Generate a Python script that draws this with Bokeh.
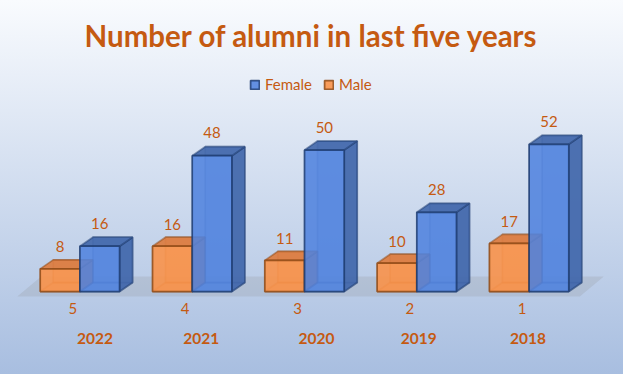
from bokeh.plotting import figure
from bokeh.embed import file_html
from bokeh.resources import INLINE
from bokeh.models import ColumnDataSource, Range1d, FixedTicker, Legend, LegendItem
from bokeh.core.properties import value

years = ["2022", "2021", "2020", "2019", "2018"]
ranks = ["5", "4", "3", "2", "1"]
female = [16, 48, 50, 28, 52]
male = [8, 16, 11, 10, 17]

FONT = "Lato"
TEXT = "#c55a11"
W, H = 623, 374
STEP = 112.3      # px per category
UNIT = 2.83       # px per value unit
X0, Y0 = 79.4, 291.0  # figure px of first category centre / value 0
BAR = 39.7 / STEP
DX = 13.0 / STEP
DY = 9.0 / UNIT
year_shift = [15, 9, 12, 2, -1]   # px from category centre

p = figure(width=W, height=H, output_backend="svg", toolbar_location=None,
           x_range=Range1d(-X0 / STEP, (W - X0) / STEP),
           y_range=Range1d((Y0 - H) / UNIT, Y0 / UNIT),
           min_border=0, outline_line_color=None,
           background_fill_color=None, border_fill_color=None)
p.grid.visible = False
p.yaxis.visible = False

idx = list(range(len(years)))


def box(vals, left):
    xs0 = [i + left for i in idx]
    xs1 = [x + BAR for x in xs0]
    return dict(
        front_x=[[a, b, b, a] for a, b in zip(xs0, xs1)],
        front_y=[[0, 0, v, v] for v in vals],
        top_x=[[a, b, b + DX, a + DX] for a, b in zip(xs0, xs1)],
        top_y=[[v, v, v + DY, v + DY] for v in vals],
        side_x=[[b, b + DX, b + DX, b] for b in xs1],
        side_y=[[0, DY, v + DY, v] for v in vals],
        back_x=[[a + DX, b + DX, b + DX, a + DX] for a, b in zip(xs0, xs1)],
        back_y=[[DY, DY, v + DY, v + DY] for v in vals],
        bottom_x=[[a, b, b + DX, a + DX] for a, b in zip(xs0, xs1)],
        bottom_y=[[0, 0, DY, DY] for v in vals],
    )


# floor plane
fl = -BAR - 23 / STEP
fr = len(idx) - 1 + BAR + 11 / STEP
p.patch([fl, fr, fr + 24 / STEP, fl + 24 / STEP],
        [-5 / UNIT, -5 / UNIT, 15 / UNIT, 15 / UNIT],
        fill_color="#8a8a8a", fill_alpha=0.2, line_color=None)


def draw(vals, left, front, dark, edge):
    src = ColumnDataSource(box(vals, left))
    kw = dict(source=src, line_color=edge, line_width=1.75)
    p.patches("back_x", "back_y", fill_color=front, fill_alpha=0.25, line_alpha=0.3, **kw)
    p.patches("bottom_x", "bottom_y", fill_color=front, fill_alpha=0.25, line_alpha=0.3, **kw)
    p.patches("side_x", "side_y", fill_color=dark, fill_alpha=0.9, line_alpha=0.5, **kw)
    p.patches("top_x", "top_y", fill_color=dark, fill_alpha=0.9, line_alpha=0.5, **kw)
    return p.patches("front_x", "front_y", fill_color=front, fill_alpha=0.88,
                     line_alpha=0.85, **kw)


r_male = draw(male, -BAR, "#fb9145", "#dd7a3c", "#8f4a15")
r_female = draw(female, 0, "#5183de", "#4066aa", "#1f3d72")

# data labels
p.text([i - BAR / 2 for i in idx], male, text=[str(v) for v in male],
       text_font=value(FONT), text_font_size="15px", text_color=TEXT,
       text_align="center", text_baseline="middle", y_offset=-22)
p.text([i + BAR / 2 for i in idx], female, text=[str(v) for v in female],
       text_font=value(FONT), text_font_size="15px", text_color=TEXT,
       text_align="center", text_baseline="middle", y_offset=-23)

# rank axis running along the floor
ax = p.xaxis[0]
ax.fixed_location = 0
tick_pos = [i - 7 / STEP for i in idx]
ax.ticker = FixedTicker(ticks=tick_pos)
ax.major_label_overrides = dict(zip(tick_pos, ranks))
ax.axis_line_color = None
ax.major_tick_line_color = None
ax.minor_tick_line_color = None
ax.major_label_standoff = 5
ax.major_label_text_font = FONT
ax.major_label_text_font_size = "15px"
ax.major_label_text_color = TEXT

# year row
p.text([i + s / STEP for i, s in zip(idx, year_shift)], [-47 / UNIT] * len(idx), text=years,
       text_font=value(FONT), text_font_style="bold", text_font_size="15.5px",
       text_color=TEXT, text_align="center", text_baseline="middle")

# legend
legend = Legend(items=[LegendItem(label="Female", renderers=[r_female]),
                       LegendItem(label="Male", renderers=[r_male])],
                orientation="horizontal", location=(249, 281),
                background_fill_alpha=0, border_line_alpha=0,
                glyph_width=11, glyph_height=11, label_standoff=5, spacing=11,
                padding=0, margin=0,
                label_text_font=FONT, label_text_font_size="15px", label_text_color=TEXT)
p.add_layout(legend)

# title
p.text([(311 - X0) / STEP], [(Y0 - 35) / UNIT], text=["Number of alumni in last five years"],
       text_font=value(FONT), text_font_style="bold", text_font_size="29.5px",
       text_color=TEXT, text_align="center", text_baseline="middle")

template = """{% block preamble %}<style>html{height:100%}body{min-height:100%;box-sizing:border-box;
background:linear-gradient(180deg,#f9fbfe 0%,#a8bee0 100%) no-repeat;background-size:100% 374px}</style>{% endblock %}
"""
open("out.html", "w").write(file_html(p, INLINE, template=template))
